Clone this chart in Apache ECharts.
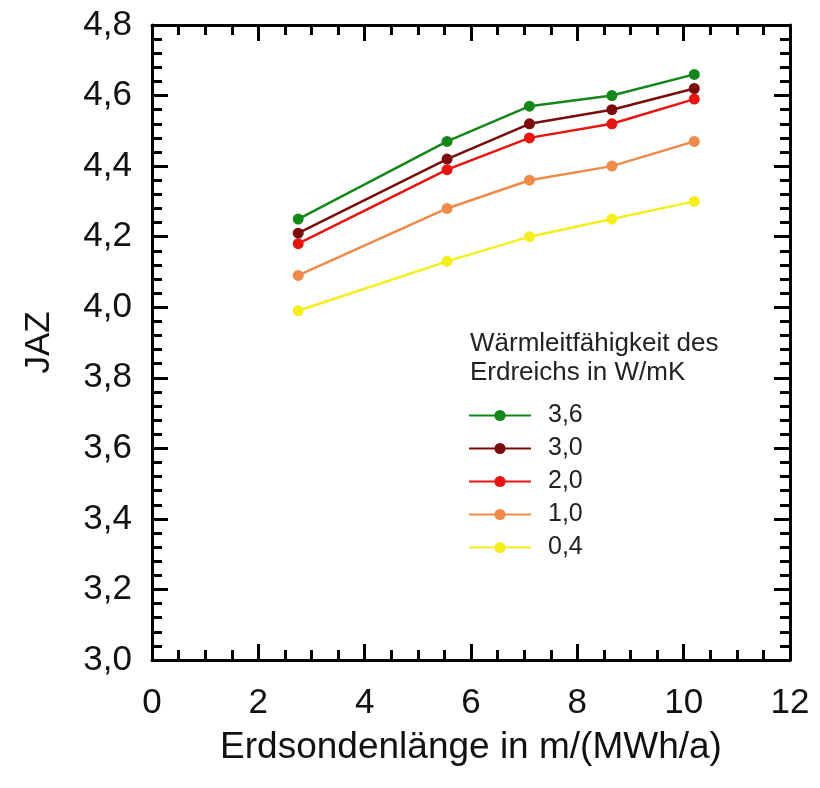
<!DOCTYPE html>
<html><head><meta charset="utf-8">
<script src="https://cdn.jsdelivr.net/npm/echarts@6/dist/echarts.min.js"></script>
<style>html,body{margin:0;padding:0;background:#fff}#c{width:820px;height:788px}</style>
</head><body><div id="c"></div>
<script>
const xValues = [2.75, 5.55, 7.1, 8.65, 10.2];
const seriesNames = ['3,6', '3,0', '2,0', '1,0', '0,4'];
const s36 = [4.25, 4.47, 4.57, 4.60, 4.66];
const s30 = [4.21, 4.42, 4.52, 4.56, 4.62];
const s20 = [4.18, 4.39, 4.48, 4.52, 4.59];
const s10 = [4.09, 4.28, 4.36, 4.40, 4.47];
const s04 = [3.99, 4.13, 4.20, 4.25, 4.30];
const colors = ['#14871a', '#7a0c0c', '#e8140f', '#f08a4a', '#f5ee1e'];
const allValues = [s36, s30, s20, s10, s04];

const font = '"Liberation Sans", Arial, sans-serif';
const chart = echarts.init(document.getElementById('c'));
const axisLine = () => ({show: true, onZero: false, lineStyle: {color: '#000', width: 3}});
const majorTick = () => ({show: true, inside: true, length: 16, lineStyle: {color: '#000', width: 3}});
const minorTick = (n) => ({show: true, splitNumber: n, length: 10, lineStyle: {color: '#000', width: 3}});
const fmtY = v => v.toFixed(1).replace('.', ',');

chart.setOption({
  animation: false,
  grid: {left: 152, top: 25, width: 638, height: 635},
  title: {
    text: 'Wärmleitfähigkeit des\nErdreichs in W/mK',
    left: 465, top: 324,
    textStyle: {fontFamily: font, fontSize: 26, fontWeight: 'normal', color: '#222', lineHeight: 29}
  },
  legend: {
    orient: 'vertical', left: 463, top: 398,
    itemWidth: 62, itemHeight: 14, itemGap: 8,
    textStyle: {fontFamily: font, fontSize: 25, color: '#222', padding: [0, 0, 0, 12]},
    data: seriesNames
  },
  xAxis: [{
    type: 'value', min: 0, max: 12, interval: 2, position: 'bottom',
    axisLine: axisLine(), axisTick: majorTick(), minorTick: minorTick(4),
    splitLine: {show: false},
    axisLabel: {fontFamily: font, fontSize: 35, color: '#111', margin: 26},
    name: 'Erdsondenlänge in m/(MWh/a)', nameLocation: 'middle', nameGap: 69,
    nameTextStyle: {fontFamily: font, fontSize: 37, color: '#111'}
  }, {
    type: 'value', min: 0, max: 12, interval: 2, position: 'top',
    axisLine: axisLine(), axisTick: majorTick(), minorTick: minorTick(4),
    splitLine: {show: false}, axisLabel: {show: false}
  }],
  yAxis: [{
    type: 'value', min: 3.0, max: 4.8, interval: 0.2, position: 'left',
    axisLine: axisLine(), axisTick: majorTick(), minorTick: minorTick(5),
    splitLine: {show: false},
    axisLabel: {fontFamily: font, fontSize: 35, color: '#111', margin: 20, formatter: fmtY},
    name: 'JAZ', nameLocation: 'middle', nameGap: 95, nameRotate: 90,
    nameTextStyle: {fontFamily: font, fontSize: 35, color: '#111'}
  }, {
    type: 'value', min: 3.0, max: 4.8, interval: 0.2, position: 'right',
    axisLine: axisLine(), axisTick: majorTick(), minorTick: minorTick(5),
    splitLine: {show: false}, axisLabel: {show: false}
  }],
  series: allValues.map((vals, i) => ({
    name: seriesNames[i], type: 'line',
    data: xValues.map((x, j) => [x, vals[j]]),
    symbol: 'circle', symbolSize: 11,
    lineStyle: {color: colors[i], width: 2.5},
    itemStyle: {color: colors[i]}
  }))
});
</script></body></html>
